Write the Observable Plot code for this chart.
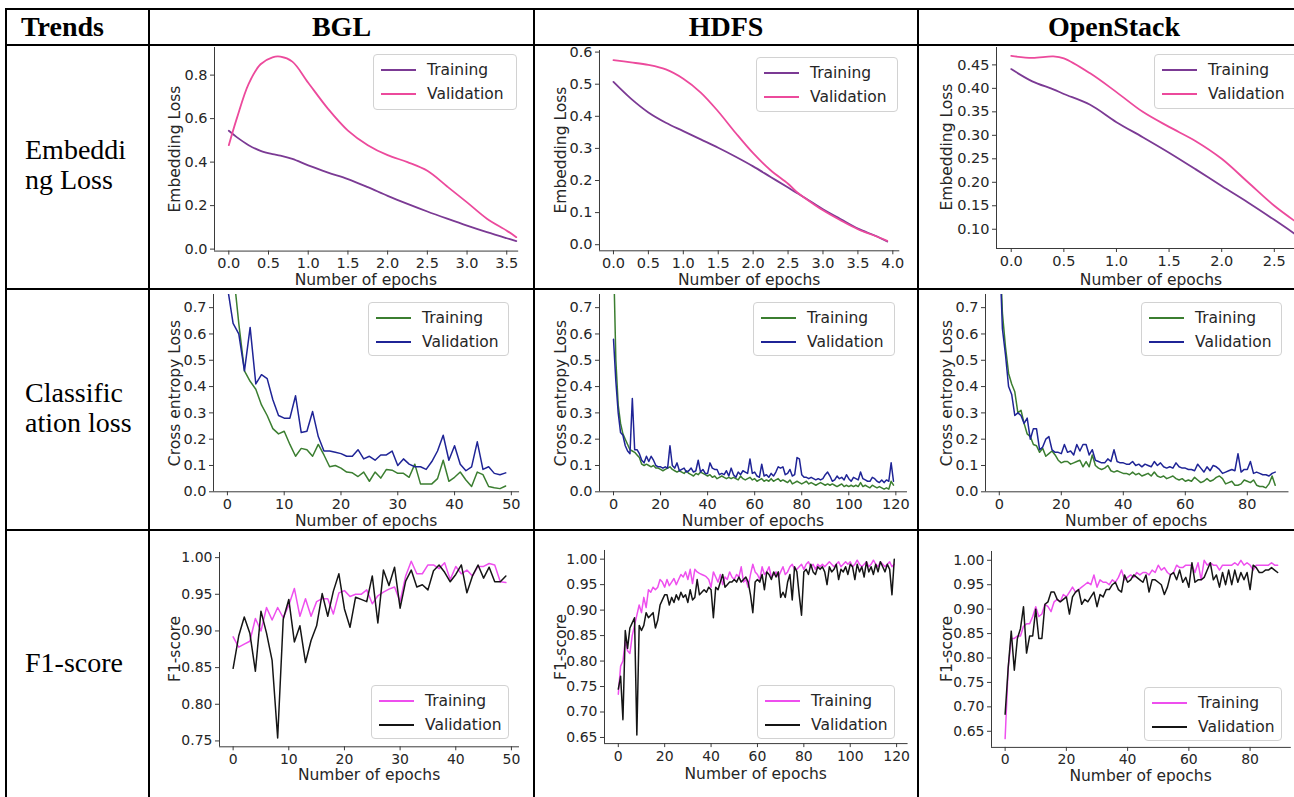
<!DOCTYPE html>
<html><head><meta charset="utf-8">
<script src="https://cdn.jsdelivr.net/npm/d3@7"></script>
<script src="https://cdn.jsdelivr.net/npm/@observablehq/plot@0.6"></script>
<style>
html,body{margin:0;padding:0;background:#fff;}
#page{position:relative;width:1294px;height:797px;overflow:hidden;background:#fff;}
.ln{position:absolute;background:#000;}
.head{position:absolute;font-family:"Liberation Serif","Times New Roman",serif;font-weight:bold;font-size:28px;line-height:36px;color:#000;white-space:nowrap;}
.rowlab{position:absolute;font-family:"Liberation Serif","Times New Roman",serif;font-size:28px;line-height:30px;color:#000;white-space:pre;}
.panel{position:absolute;}
.axl{position:absolute;font-family:"DejaVu Sans";font-size:15.5px;line-height:18px;color:#262626;white-space:nowrap;transform:translate(-50%,-50%);}
.axl.rot{transform:translate(-50%,-50%) rotate(-90deg);}
.legend{position:absolute;border:1px solid #d2d2d2;border-radius:4px;background:rgba(255,255,255,0.85);font-family:"DejaVu Sans";font-size:15.5px;color:#262626;box-sizing:border-box;}
.legend .sw{position:absolute;height:2px;width:35px;left:7px;}
.legend .lt{position:absolute;line-height:18px;white-space:nowrap;}
</style>
</head><body><div id="page"></div>
<script>
// ---------- labels ----------
const headerLabels = ["Trends", "BGL", "HDFS", "OpenStack"];
const rowLabels = ["Embeddi\nng Loss", "Classific\nation loss", "F1-score"];
const seriesNames = ["Training", "Validation"];
const xAxisLabel = "Number of epochs";
const yAxisLabels = ["Embedding Loss", "Cross entropy Loss", "F1-score"];

// ---------- row 1: embedding loss ----------
const bglEmbEpochs = [0, 0.1, 0.25, 0.4, 0.55, 0.65, 0.8, 1.0, 1.25, 1.5, 1.75, 2.0, 2.25, 2.5, 2.75, 3.0, 3.25, 3.5, 3.62];
const bglEmbTrain  = [0.544, 0.515, 0.478, 0.452, 0.437, 0.43, 0.415, 0.385, 0.352, 0.322, 0.285, 0.245, 0.208, 0.173, 0.14, 0.108, 0.078, 0.05, 0.037];
const bglEmbVal    = [0.478, 0.6, 0.76, 0.85, 0.882, 0.885, 0.862, 0.765, 0.645, 0.545, 0.478, 0.432, 0.4, 0.36, 0.288, 0.215, 0.14, 0.085, 0.055];

const hdfsEmbEpochs = [0, 0.25, 0.5, 0.75, 1.0, 1.25, 1.5, 1.75, 2.0, 2.25, 2.5, 2.62, 2.75, 3.0, 3.25, 3.5, 3.75, 3.92];
const hdfsEmbTrain  = [0.507, 0.455, 0.412, 0.38, 0.354, 0.328, 0.302, 0.274, 0.244, 0.211, 0.178, 0.162, 0.145, 0.11, 0.08, 0.05, 0.028, 0.01];
const hdfsEmbVal    = [0.575, 0.568, 0.56, 0.546, 0.517, 0.474, 0.415, 0.348, 0.285, 0.232, 0.19, 0.165, 0.144, 0.107, 0.076, 0.048, 0.027, 0.012];

const osEmbEpochs = [0, 0.2, 0.4, 0.5, 0.75, 1.0, 1.25, 1.5, 1.75, 2.0, 2.25, 2.5, 2.78];
const osEmbTrain  = [0.441, 0.415, 0.398, 0.388, 0.365, 0.328, 0.296, 0.263, 0.228, 0.192, 0.157, 0.12, 0.077];
const osEmbVal    = [0.469, 0.465, 0.468, 0.464, 0.432, 0.392, 0.35, 0.318, 0.288, 0.25, 0.2, 0.15, 0.104];

// ---------- row 2: cross entropy loss (one value per epoch) ----------
const bglCeTrain = [1.3, 0.85, 0.64, 0.46, 0.42, 0.39, 0.33, 0.29, 0.24, 0.22,
  0.23, 0.18, 0.135, 0.165, 0.16, 0.135, 0.18, 0.14, 0.095, 0.10,
  0.09, 0.075, 0.072, 0.058, 0.075, 0.04, 0.075, 0.052, 0.085, 0.082,
  0.07, 0.07, 0.055, 0.105, 0.03, 0.03, 0.03, 0.05, 0.12, 0.04,
  0.055, 0.075, 0.045, 0.02, 0.075, 0.065, 0.02, 0.015, 0.012, 0.022];
const bglCeVal = [0.78, 0.64, 0.6, 0.46, 0.625, 0.41, 0.445, 0.43, 0.35, 0.29,
  0.28, 0.28, 0.365, 0.225, 0.23, 0.305, 0.21, 0.155, 0.155, 0.15,
  0.145, 0.135, 0.135, 0.16, 0.125, 0.135, 0.12, 0.14, 0.14, 0.155,
  0.10, 0.125, 0.105, 0.095, 0.095, 0.085, 0.115, 0.155, 0.215, 0.12,
  0.175, 0.105, 0.08, 0.095, 0.19, 0.085, 0.095, 0.07, 0.065, 0.072];

const hdfsCeTrain = [0.9, 0.5, 0.33, 0.26, 0.22, 0.2, 0.18, 0.16, 0.155, 0.15,
  0.14, 0.13, 0.105, 0.1, 0.105, 0.1, 0.095, 0.1, 0.09, 0.09,
  0.085, 0.08, 0.085, 0.09, 0.095, 0.085, 0.08, 0.075, 0.08, 0.075,
  0.07, 0.08, 0.07, 0.065, 0.06, 0.07, 0.065, 0.075, 0.07, 0.065,
  0.06, 0.065, 0.055, 0.06, 0.05, 0.055, 0.06, 0.055, 0.05, 0.055,
  0.05, 0.055, 0.05, 0.045, 0.06, 0.05, 0.045, 0.05, 0.055, 0.045,
  0.05, 0.04, 0.045, 0.05, 0.04, 0.045, 0.04, 0.05, 0.04, 0.045,
  0.05, 0.04, 0.045, 0.04, 0.035, 0.045, 0.03, 0.035, 0.04, 0.035,
  0.03, 0.035, 0.04, 0.03, 0.035, 0.03, 0.025, 0.03, 0.035, 0.03,
  0.025, 0.03, 0.025, 0.03, 0.025, 0.02, 0.025, 0.03, 0.02, 0.025,
  0.02, 0.025, 0.02, 0.025, 0.02, 0.035, 0.02, 0.025, 0.02, 0.015,
  0.025, 0.02, 0.015, 0.02, 0.015, 0.01, 0.015, 0.01, 0.04, 0.025];
const hdfsCeVal = [0.58, 0.42, 0.3, 0.225, 0.215, 0.175, 0.155, 0.145, 0.355, 0.16,
  0.16, 0.145, 0.12, 0.11, 0.135, 0.115, 0.135, 0.12, 0.1, 0.095,
  0.095, 0.09, 0.095, 0.09, 0.175, 0.1, 0.09, 0.11, 0.08, 0.085,
  0.09, 0.075, 0.08, 0.09, 0.075, 0.08, 0.12, 0.075, 0.085, 0.07,
  0.07, 0.11, 0.09, 0.085, 0.085, 0.065, 0.07, 0.065, 0.08, 0.06,
  0.09, 0.065, 0.055, 0.075, 0.065, 0.08, 0.075, 0.07, 0.125, 0.07,
  0.075, 0.06, 0.055, 0.105, 0.06, 0.065, 0.055, 0.07, 0.06, 0.075,
  0.095, 0.09, 0.095, 0.065, 0.07, 0.085, 0.06, 0.065, 0.13, 0.125,
  0.065, 0.055, 0.055, 0.05, 0.055, 0.05, 0.045, 0.05, 0.045, 0.05,
  0.065, 0.075, 0.06, 0.04, 0.045, 0.06, 0.05, 0.055, 0.045, 0.065,
  0.05, 0.04, 0.055, 0.05, 0.045, 0.075, 0.05, 0.045, 0.04, 0.04,
  0.055, 0.05, 0.04, 0.035, 0.045, 0.035, 0.045, 0.04, 0.11, 0.04];

const osCeTrain = [1.0, 0.68, 0.55, 0.45, 0.41, 0.38, 0.3, 0.31, 0.26, 0.22,
  0.21, 0.18, 0.175, 0.15, 0.165, 0.135, 0.145, 0.155, 0.14, 0.12,
  0.11, 0.115, 0.115, 0.105, 0.11, 0.115, 0.12, 0.095, 0.115, 0.095,
  0.14, 0.1, 0.09, 0.085, 0.09, 0.1, 0.08, 0.075, 0.08, 0.075,
  0.07, 0.07, 0.065, 0.075, 0.065, 0.07, 0.06, 0.065, 0.07, 0.06,
  0.075, 0.06, 0.055, 0.06, 0.05, 0.055, 0.06, 0.05, 0.045, 0.05,
  0.04, 0.045, 0.04, 0.055, 0.045, 0.035, 0.04, 0.05, 0.04, 0.045,
  0.055, 0.06, 0.05, 0.03, 0.035, 0.04, 0.025, 0.025, 0.03, 0.045,
  0.04, 0.035, 0.045, 0.025, 0.02, 0.02, 0.015, 0.03, 0.06, 0.025];
const osCeVal = [0.95, 0.62, 0.52, 0.40, 0.37, 0.29, 0.30, 0.29, 0.26, 0.28,
  0.20, 0.24, 0.24, 0.16, 0.17, 0.20, 0.21, 0.16, 0.15, 0.15,
  0.145, 0.18, 0.15, 0.155, 0.14, 0.18, 0.155, 0.18, 0.18, 0.14,
  0.16, 0.12, 0.115, 0.11, 0.11, 0.125, 0.115, 0.16, 0.115, 0.11,
  0.11, 0.105, 0.105, 0.115, 0.10, 0.105, 0.095, 0.105, 0.10, 0.095,
  0.115, 0.10, 0.11, 0.095, 0.09, 0.095, 0.09, 0.11, 0.095, 0.09,
  0.09, 0.085, 0.085, 0.08, 0.105, 0.09, 0.075, 0.095, 0.08, 0.10,
  0.095, 0.085, 0.07, 0.075, 0.08, 0.085, 0.08, 0.145, 0.075, 0.085,
  0.085, 0.115, 0.07, 0.075, 0.07, 0.065, 0.065, 0.06, 0.07, 0.075];

// ---------- row 3: F1-score (one value per epoch) ----------
const bglF1Train = [0.892, 0.878, 0.882, 0.886, 0.917, 0.90, 0.932, 0.915, 0.932, 0.918,
  0.935, 0.958, 0.92, 0.944, 0.92, 0.94, 0.944, 0.944, 0.923, 0.952,
  0.955, 0.947, 0.95, 0.95, 0.956, 0.937, 0.948, 0.953, 0.957, 0.96,
  0.94, 0.975, 0.995, 0.978, 0.978, 0.99, 0.99, 0.985, 0.993, 0.97,
  0.988, 0.978, 0.983, 0.975, 0.988, 0.988, 0.992, 0.99, 0.967, 0.966];
const bglF1Val = [0.849, 0.893, 0.919, 0.897, 0.845, 0.927, 0.897, 0.86, 0.754, 0.916,
  0.943, 0.885, 0.907, 0.857, 0.887, 0.907, 0.951, 0.92, 0.954, 0.978,
  0.93, 0.905, 0.946, 0.943, 0.94, 0.975, 0.911, 0.983, 0.962, 0.987,
  0.931, 0.968, 0.983, 0.96, 0.963, 0.956, 0.982, 0.99, 0.98, 0.967,
  0.977, 0.99, 0.952, 0.975, 0.99, 0.972, 0.987, 0.967, 0.967, 0.975];

const hdfsF1Train = [0.735, 0.79, 0.80, 0.84, 0.82, 0.815, 0.85, 0.87, 0.89, 0.91,
  0.895, 0.925, 0.905, 0.94, 0.935, 0.945, 0.94, 0.945, 0.96, 0.955,
  0.945, 0.96, 0.948, 0.955, 0.962, 0.95, 0.96, 0.97, 0.965, 0.975,
  0.96, 0.98, 0.952, 0.98, 0.975, 0.972, 0.97, 0.968, 0.965, 0.96,
  0.945, 0.975, 0.965, 0.955, 0.97, 0.95, 0.965, 0.96, 0.975, 0.965,
  0.96, 0.97, 0.965, 0.985, 0.955, 0.96, 0.945, 0.97, 0.99, 0.975,
  0.97, 0.96, 0.985, 0.97, 0.975, 0.985, 0.965, 0.97, 0.975, 0.965,
  0.975, 0.985, 0.97, 0.975, 0.985, 0.99, 0.98, 0.98, 0.985, 0.99,
  0.98, 0.99, 0.995, 0.985, 0.99, 0.98, 0.99, 0.985, 0.99, 0.985,
  0.99, 0.995, 0.99, 0.985, 0.99, 0.995, 0.985, 0.99, 0.995, 0.99,
  0.995, 0.985, 0.99, 0.998, 0.99, 0.985, 0.99, 0.995, 0.985, 0.99,
  0.998, 0.99, 0.985, 0.995, 0.99, 0.985, 0.99, 0.995, 0.985, 0.99];
const hdfsF1Val = [0.745, 0.77, 0.685, 0.86, 0.825, 0.865, 0.875, 0.885, 0.655, 0.87,
  0.86, 0.87, 0.895, 0.885, 0.89, 0.895, 0.865, 0.88, 0.91, 0.92,
  0.93, 0.93, 0.91, 0.925, 0.915, 0.93, 0.92, 0.935, 0.925, 0.93,
  0.915, 0.94, 0.92, 0.925, 0.96, 0.93, 0.935, 0.94, 0.935, 0.945,
  0.94, 0.885, 0.945, 0.94, 0.955, 0.97, 0.945, 0.95, 0.955, 0.955,
  0.96, 0.955, 0.965, 0.955, 0.96, 0.965, 0.955, 0.93, 0.895, 0.955,
  0.96, 0.955, 0.97, 0.94, 0.975, 0.97, 0.96, 0.975, 0.965, 0.975,
  0.925, 0.935, 0.925, 0.955, 0.97, 0.92, 0.985, 0.975, 0.93, 0.89,
  0.975, 0.98, 0.97, 0.99, 0.975, 0.97, 0.985, 0.98, 0.985, 0.975,
  0.95, 0.985, 0.975, 0.98, 0.99, 0.96, 0.98, 0.975, 0.985, 0.97,
  0.99, 0.985, 0.96, 0.99, 0.975, 0.985, 0.965, 0.995, 0.975, 0.985,
  0.97, 0.99, 0.975, 0.995, 0.985, 0.975, 0.99, 0.98, 0.93, 1.0];

const osF1Train = [0.635, 0.78, 0.84, 0.84, 0.845, 0.845, 0.865, 0.87, 0.87, 0.885,
  0.905, 0.885, 0.89, 0.91, 0.905, 0.895, 0.915, 0.92, 0.915, 0.93,
  0.925, 0.935, 0.945, 0.935, 0.94, 0.945, 0.95, 0.955, 0.95, 0.97,
  0.945, 0.96, 0.955, 0.955, 0.95, 0.96, 0.955, 0.965, 0.98, 0.96,
  0.965, 0.97, 0.965, 0.975, 0.97, 0.975, 0.975, 0.97, 0.98, 0.975,
  0.99, 0.98, 0.985, 0.975, 0.97, 0.975, 0.99, 0.985, 0.985, 0.99,
  0.99, 0.99, 0.975, 0.995, 0.96, 1.0, 0.99, 0.995, 0.99, 0.99,
  0.98, 0.99, 0.99, 0.99, 0.99, 0.995, 0.99, 1.0, 0.99, 0.995,
  0.99, 0.98, 0.99, 0.99, 0.99, 0.99, 0.99, 0.995, 0.99, 0.99];
const osF1Val = [0.685, 0.78, 0.855, 0.775, 0.84, 0.86, 0.905, 0.81, 0.845, 0.845,
  0.9, 0.84, 0.84, 0.91, 0.915, 0.935, 0.935, 0.92, 0.915, 0.92,
  0.925, 0.89, 0.925, 0.935, 0.94, 0.91, 0.92, 0.915, 0.925, 0.935,
  0.905, 0.93, 0.925, 0.94, 0.94, 0.95, 0.955, 0.94, 0.935, 0.97,
  0.955, 0.96, 0.97, 0.965, 0.96, 0.955, 0.97, 0.935, 0.96, 0.96,
  0.955, 0.95, 0.93, 0.945, 0.97, 0.975, 0.96, 0.98, 0.955, 0.965,
  0.945, 0.995, 0.955, 0.96, 0.96, 0.965, 0.98, 0.995, 0.96, 0.97,
  0.945, 0.975, 0.95, 0.98, 0.95, 0.98, 0.955, 0.975, 0.96, 0.975,
  0.94, 0.99, 0.985, 0.975, 0.975, 0.98, 0.98, 0.985, 0.98, 0.975];

// ---------- tick values ----------
const embXTicksBGL = [0, 0.5, 1, 1.5, 2, 2.5, 3, 3.5];
const embXTicksHDFS = [0, 0.5, 1, 1.5, 2, 2.5, 3, 3.5, 4];
const embXTicksOS = [0, 0.5, 1, 1.5, 2, 2.5];
const embYTicksBGL = [0, 0.2, 0.4, 0.6, 0.8];
const embYTicksHDFS = [0, 0.1, 0.2, 0.3, 0.4, 0.5, 0.6];
const embYTicksOS = [0.10, 0.15, 0.20, 0.25, 0.30, 0.35, 0.40, 0.45];
const ceYTicks = [0, 0.1, 0.2, 0.3, 0.4, 0.5, 0.6, 0.7];
const epochTicksBGL = [0, 10, 20, 30, 40, 50];
const epochTicksHDFS = [0, 20, 40, 60, 80, 100, 120];
const epochTicksOS = [0, 20, 40, 60, 80];
const f1YTicksBGL = [0.75, 0.80, 0.85, 0.90, 0.95, 1.00];
const f1YTicksWide = [0.65, 0.70, 0.75, 0.80, 0.85, 0.90, 0.95, 1.00];

// ---------- layout ----------
const page = document.getElementById("page");
const colX = [6, 149, 534, 918, 1310];
const rowY = [9, 45, 289, 530, 800];
function div(cls, css, text) {
  const d = document.createElement("div");
  d.className = cls; d.style.cssText = css;
  if (text != null) d.textContent = text;
  page.appendChild(d); return d;
}
for (let i = 0; i < 4; i++) div("ln", `left:${colX[0]-1}px;top:${rowY[i]-1}px;width:1320px;height:2px;`);
for (let i = 0; i < 4; i++) div("ln", `left:${colX[i]-1}px;top:${rowY[0]-1}px;width:2px;height:800px;`);
div("head", `left:21px;top:${rowY[0]}px;height:36px;`, headerLabels[0]);
for (let c = 1; c < 4; c++) {
  div("head", `left:${colX[c]}px;width:${colX[c+1]-colX[c]}px;top:${rowY[0]}px;text-align:center;`, headerLabels[c]);
}
for (let r = 0; r < 3; r++) {
  const cy = (rowY[r+1] + rowY[r+2]) / 2;
  const lines = rowLabels[r].split("\n").length;
  div("rowlab", `left:25px;top:${cy - lines*15 - 2}px;`, rowLabels[r]);
}

const rowColors = [["#7b3a94", "#ec4a9c"], ["#3b7e30", "#1f2496"], ["#ee4fee", "#151515"]];
const idx = a => a.map((_, i) => i);

const panels = [
  {r:0, xs:bglEmbEpochs, tr:bglEmbTrain, va:bglEmbVal, xd:[-0.18,3.65], yd:[-0.009,0.927], box:[213.7,517.9,46.7,250.3], xt:embXTicksBGL, yt:embYTicksBGL, fx:".1f", fy:".1f", ydx:-39, xly:280, fs:14.5, curve:"catmull-rom", leg:[373,54,144,56]},
  {r:0, xs:hdfsEmbEpochs, tr:hdfsEmbTrain, va:hdfsEmbVal, xd:[-0.2,4.1], yd:[-0.019,0.605], box:[599,899.3,49.5,249.8], xt:embXTicksHDFS, yt:embYTicksHDFS, fx:".1f", fy:".1f", ydx:-38, xly:280, fs:14.5, curve:"catmull-rom", leg:[756,57,142,55]},
  {r:0, xs:osEmbEpochs, tr:osEmbTrain, va:osEmbVal, xd:[-0.14,2.92], yd:[0.059,0.487], box:[996,1318,46.6,247.6], xt:embXTicksOS, yt:embYTicksOS, fx:".1f", fy:".2f", ydx:-49, xly:280, xlc:1151, fs:14.5, curve:"catmull-rom", leg:[1154,54,150,55]},
  {r:1, xs:idx(bglCeTrain), tr:bglCeTrain, va:bglCeVal, xd:[-2.45,51.45], yd:[0,0.75], box:[213.1,519.2,294,491.3], xt:epochTicksBGL, yt:ceYTicks, fx:"d", fy:".1f", ydx:-38, xly:521, fs:14.5, curve:"linear", leg:[368,302,141,54]},
  {r:1, xs:idx(hdfsCeTrain), tr:hdfsCeTrain, va:hdfsCeVal, xd:[-5.95,124.95], yd:[0,0.75], box:[599,907,294,491.3], xt:epochTicksHDFS, yt:ceYTicks, fx:"d", fy:".1f", ydx:-38, xly:521, fs:14.5, curve:"linear", leg:[753,302,142,54]},
  {r:1, xs:idx(osCeTrain), tr:osCeTrain, va:osCeVal, xd:[-4.45,93.45], yd:[0,0.75], box:[984.5,1288,294,491.3], xt:epochTicksOS, yt:ceYTicks, fx:"d", fy:".1f", ydx:-38, xly:521, fs:14.5, curve:"linear", leg:[1141,302,141,54]},
  {r:2, xs:idx(bglF1Train), tr:bglF1Train, va:bglF1Val, xd:[-2.45,51.45], yd:[0.742,1.007], box:[219.1,519.1,551.6,745.9], xt:epochTicksBGL, yt:f1YTicksBGL, fx:"d", fy:".2f", ydx:-44, xly:775, fs:14, curve:"linear", leg:[371,685,138,54]},
  {r:2, xs:idx(hdfsF1Train), tr:hdfsF1Train, va:hdfsF1Val, xd:[-5.95,124.95], yd:[0.638,1.017], box:[603.9,907.5,550.3,743.4], xt:epochTicksHDFS, yt:f1YTicksWide, fx:"d", fy:".2f", ydx:-43, xly:774, fs:14, curve:"linear", leg:[757,685,138,54]},
  {r:2, xs:idx(osF1Train), tr:osF1Train, va:osF1Val, xd:[-4.45,93.45], yd:[0.617,1.018], box:[990.7,1290.5,551.2,747.1], xt:epochTicksOS, yt:f1YTicksWide, fx:"d", fy:".2f", ydx:-44, xly:776, fs:14, curve:"linear", leg:[1144,687,138,54]}
];

const ML = 70, MT = 6, MR = 6, MB = 40;
for (const p of panels) {
  const [l, rgt, t, b] = p.box;
  const w = (rgt - l) + ML + MR, h = (b - t) + MT + MB;
  const [cTr, cVa] = rowColors[p.r];
  const lw = p.r === 0 ? 1.8 : 1.5;
  const svg = Plot.plot({
    width: w, height: h,
    marginLeft: ML, marginTop: MT, marginRight: MR, marginBottom: MB,
    x: {domain: p.xd},
    y: {domain: p.yd},
    style: {fontFamily: "DejaVu Sans", fontSize: p.fs + "px", color: "#262626", background: "transparent", overflow: "visible"},
    marks: [
      Plot.ruleY([p.yd[0]], {stroke: "#3a3a3a", strokeWidth: 1}),
      Plot.ruleX([p.xd[0]], {stroke: "#3a3a3a", strokeWidth: 1}),
      Plot.axisX(p.xt, {tickFormat: d3.format(p.fx), tickSize: 4, tickPadding: 3, label: null, fontSize: p.fs, stroke: "#3a3a3a"}),
      Plot.axisY(p.yt, {tickFormat: d3.format(p.fy), tickSize: 4, tickPadding: 3, label: null, fontSize: p.fs, stroke: "#3a3a3a"}),
      Plot.line(p.tr, {x: (d, i) => p.xs[i], y: d => d, stroke: cTr, strokeWidth: lw, curve: p.curve, clip: true}),
      Plot.line(p.va, {x: (d, i) => p.xs[i], y: d => d, stroke: cVa, strokeWidth: lw, curve: p.curve, clip: true})
    ]
  });
  const holder = div("panel", `left:${l - ML}px;top:${t - MT}px;width:${w}px;height:${h}px;`);
  holder.appendChild(svg);
  // axis titles
  const xc = p.xlc != null ? p.xlc : (l + rgt) / 2;
  div("axl", `left:${xc}px;top:${p.xly}px;`, xAxisLabel);
  div("axl rot", `left:${l + p.ydx}px;top:${(t + b) / 2}px;`, yAxisLabels[p.r]);
  // legend
  const [lx, ly, lwid, lh] = p.leg;
  const lg = div("legend", `left:${lx}px;top:${ly}px;width:${lwid}px;height:${lh}px;`);
  [cTr, cVa].forEach((c, k) => {
    const cy = 15 + k * 24;
    const sw = document.createElement("div"); sw.className = "sw";
    sw.style.cssText = `top:${cy - 1}px;background:${c};`;
    lg.appendChild(sw);
    const tx = document.createElement("div"); tx.className = "lt";
    tx.style.cssText = `left:53px;top:${cy - 9}px;`;
    tx.textContent = seriesNames[k];
    lg.appendChild(tx);
  });
}
</script>
</body></html>
